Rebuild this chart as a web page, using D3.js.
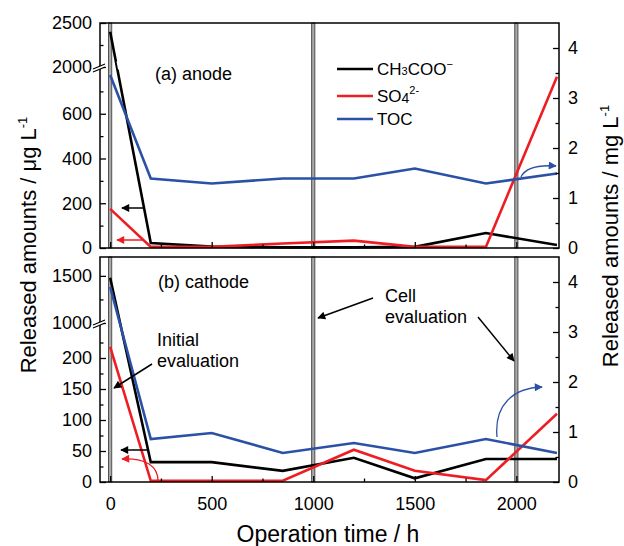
<!DOCTYPE html>
<html>
<head>
<meta charset="utf-8">
<script src="https://cdn.jsdelivr.net/npm/d3@7"></script>
<style>
  body { margin: 0; background: #fff; }
  text { font-family: "Liberation Sans", Arial, sans-serif; fill: #000; }
</style>
</head>
<body>
<script>
// ---------------- data ----------------
const times = [0, 200, 500, 850, 1200, 1500, 1850, 2200];

// (a) anode
const acetateAnode = [2400, 22, 6, 3, 3, 5, 67, 13];     // ug/L
const sulfateAnode = [175, 5, 5, 20, 33, 5, 5, 765];      // ug/L
const tocAnode     = [3.46, 1.39, 1.29, 1.39, 1.39, 1.59, 1.29, 1.49]; // mg/L

// (b) cathode
const acetateCathode = [1480, 32, 32, 18, 39, 6, 37, 37];
const sulfateCathode = [218, 2, 2, 2, 52, 18, 3, 110];
const tocCathode     = [3.9, 0.86, 0.98, 0.58, 0.78, 0.58, 0.86, 0.58];

const evalTimes = [0, 1000, 2000];
const xTicks = [0, 500, 1000, 1500, 2000];
const xMinor = [250, 750, 1250, 1750];
const leftTicksA = [0, 200, 400, 600, 2000, 2500];
const leftMinorA = [100, 300, 500, 700, 2250];
const leftTicksB = [0, 50, 100, 150, 200, 1000, 1500];
const leftMinorB = [25, 75, 125, 175, 225, 1250];
const rightTicks = [0, 1, 2, 3, 4];
const rightMinor = [0.5, 1.5, 2.5, 3.5];

const BLACK = "#000", RED = "#ee1d23", BLUE = "#2b51a6";

// ---------------- layout ----------------
const width = 624, height = 546;
const L = 100, R = 559;

var svg = d3.select("body").append("svg")
    .attr("width", width).attr("height", height);

var x = d3.scaleLinear().domain([-50, 2210]).range([L, R]);

// markers for arrows
var defs = svg.append("defs");
[["k", BLACK], ["r", RED], ["b", BLUE]].forEach(function(m) {
  defs.append("marker")
    .attr("id", "arr-" + m[0])
    .attr("viewBox", "0 0 10 10")
    .attr("refX", 9).attr("refY", 5)
    .attr("markerUnits", "userSpaceOnUse")
    .attr("markerWidth", 9).attr("markerHeight", 8)
    .attr("orient", "auto")
    .append("path").attr("d", "M0,0 L10,5 L0,10 Z").attr("fill", m[1]);
});

var panels = [
  { top: 23, bottom: 248,
    yLeft: d3.scaleLinear().domain([0, 800, 2000, 2500]).range([248, 69, 67, 23]),
    yRight: d3.scaleLinear().domain([0, 4.5]).range([248, 23]),
    ticks: leftTicksA, minor: leftMinorA, breakY: 67,
    series: [[acetateAnode, BLACK, "L"], [sulfateAnode, RED, "L"], [tocAnode, BLUE, "R"]] },
  { top: 257, bottom: 482,
    yLeft: d3.scaleLinear().domain([0, 250, 1000, 1700]).range([482, 327, 323, 257]),
    yRight: d3.scaleLinear().domain([0, 4.5]).range([482, 257]),
    ticks: leftTicksB, minor: leftMinorB, breakY: 323,
    series: [[acetateCathode, BLACK, "L"], [sulfateCathode, RED, "L"], [tocCathode, BLUE, "R"]] }
];

function styleAxis(g) {
  g.select(".domain").remove();
  g.selectAll("line").attr("stroke", "#000").attr("stroke-width", 1.3);
  g.selectAll("text").style("font-size", "18px")
    .style("font-family", "'Liberation Sans', Arial, sans-serif");
}

panels.forEach(function(p, i) {
  var g = svg.append("g");

  // evaluation bars (grey vertical lines)
  g.selectAll(".evbar").data(evalTimes).enter().append("rect")
    .attr("x", function(d) { return x(d) - 1.6; })
    .attr("y", p.top)
    .attr("width", 3.2).attr("height", p.bottom - p.top)
    .attr("fill", "#a8a8a8").attr("stroke", "#444").attr("stroke-width", 0.9);

  // data lines
  p.series.forEach(function(s) {
    var y = s[2] == "L" ? p.yLeft : p.yRight;
    var line = d3.line()
      .x(function(d, j) { return x(times[j]); })
      .y(function(d) { return y(d); });
    g.append("path").datum(s[0])
      .attr("d", line)
      .attr("fill", "none")
      .attr("stroke", s[1])
      .attr("stroke-width", 2.6)
      .attr("stroke-linejoin", "miter");
  });

  // bottom axis ticks (inward)
  var xb = g.append("g").attr("transform", "translate(0," + p.bottom + ")")
    .call(d3.axisBottom(x).tickValues(xTicks).tickSize(-6)
      .tickFormat(i == 1 ? d3.format("d") : ""));
  styleAxis(xb);
  xb.selectAll("text").attr("dy", "1.05em").attr("y", 9);
  var xm = g.append("g").attr("transform", "translate(0," + p.bottom + ")")
    .call(d3.axisBottom(x).tickValues(xMinor).tickSize(-3.5).tickFormat(""));
  styleAxis(xm);

  // left axis
  var yl = g.append("g").attr("transform", "translate(" + L + ",0)")
    .call(d3.axisLeft(p.yLeft).tickValues(p.ticks).tickSize(-6).tickPadding(8)
      .tickFormat(d3.format("d")));
  styleAxis(yl);
  var ylm = g.append("g").attr("transform", "translate(" + L + ",0)")
    .call(d3.axisLeft(p.yLeft).tickValues(p.minor).tickSize(-3.5).tickFormat(""));
  styleAxis(ylm);

  // right axis
  var yr = g.append("g").attr("transform", "translate(" + R + ",0)")
    .call(d3.axisRight(p.yRight).tickValues(rightTicks).tickSize(-6).tickPadding(9)
      .tickFormat(d3.format("d")));
  styleAxis(yr);
  var yrm = g.append("g").attr("transform", "translate(" + R + ",0)")
    .call(d3.axisRight(p.yRight).tickValues(rightMinor).tickSize(-3.5).tickFormat(""));
  styleAxis(yrm);

  // frame
  g.append("rect")
    .attr("x", L).attr("y", p.top)
    .attr("width", R - L).attr("height", p.bottom - p.top)
    .attr("fill", "none").attr("stroke", "#000").attr("stroke-width", 1.5);

  // axis break mark
  var by = p.breakY;
  g.append("path")
    .attr("d", "M" + (L - 7) + "," + (by + 2) + " L" + (L + 5) + "," + (by - 3) +
               " L" + (L + 5) + "," + (by) + " L" + (L - 7) + "," + (by + 5) + " Z")
    .attr("fill", "#fff");
  g.append("path")
    .attr("d", "M" + (L - 7) + "," + (by + 2) + " L" + (L + 5) + "," + (by - 3) +
               " M" + (L - 7) + "," + (by + 5) + " L" + (L + 5) + "," + (by))
    .attr("stroke", "#000").attr("stroke-width", 1.2).attr("fill", "none");
});

// gap of the acetate line at the top break
svg.append("line")
  .attr("x1", 119).attr("y1", 61).attr("x2", 120.5).attr("y2", 69)
  .attr("stroke", "#fff").attr("stroke-width", 5);

// ---------------- annotations ----------------
function arrow(x1, y1, x2, y2, col, id) {
  svg.append("line")
    .attr("x1", x1).attr("y1", y1).attr("x2", x2).attr("y2", y2)
    .attr("stroke", col).attr("stroke-width", 1.5)
    .attr("marker-end", "url(#arr-" + id + ")");
}
function curved(d, col, id) {
  svg.append("path").attr("d", d)
    .attr("fill", "none").attr("stroke", col).attr("stroke-width", 1.3)
    .attr("marker-end", "url(#arr-" + id + ")");
}

arrow(144, 208, 122, 208, BLACK, "k");
arrow(143, 240, 117, 240, RED, "r");
curved("M521,177 Q527,164 556,166", BLUE, "b");

arrow(147, 450, 121, 450, BLACK, "k");
curved("M158,481 C158,466 146,458 122,459", RED, "r");
curved("M497,437 C494,404 514,388 542,387", BLUE, "b");

arrow(152, 364, 114, 388, BLACK, "k");
arrow(373, 298, 318, 318, BLACK, "k");
arrow(478, 317, 514, 361, BLACK, "k");

svg.append("text").attr("x", 155).attr("y", 80).style("font-size", "18px").text("(a) anode");
svg.append("text").attr("x", 158).attr("y", 288).style("font-size", "18px").text("(b) cathode");
svg.append("text").attr("x", 157).attr("y", 346).style("font-size", "18px").text("Initial");
svg.append("text").attr("x", 157).attr("y", 367).style("font-size", "18px").text("evaluation");
svg.append("text").attr("x", 385).attr("y", 302).style("font-size", "18px").text("Cell");
svg.append("text").attr("x", 385).attr("y", 323).style("font-size", "18px").text("evaluation");

// legend
var legend = svg.append("g");
var legRows = [
  { y: 69, col: BLACK, parts: [["CH", 17, 0], ["3", 11, 0], ["COO", 17, 0], ["\u2212", 11, -7]] },
  { y: 96, col: RED, parts: [["SO", 17, 0], ["4", 14, 1], ["2-", 11, -8]] },
  { y: 119, col: BLUE, parts: [["TOC", 17, 0]] }
];
legRows.forEach(function(r) {
  legend.append("line")
    .attr("x1", 337).attr("x2", 373).attr("y1", r.y).attr("y2", r.y)
    .attr("stroke", r.col).attr("stroke-width", 2.6);
  var t = legend.append("text").attr("x", 377).attr("y", r.y + 6);
  var prev = 0;
  r.parts.forEach(function(pt) {
    t.append("tspan").style("font-size", pt[1] + "px")
      .attr("dy", pt[2] - prev).text(pt[0]);
    prev = pt[2];
  });
});

// axis titles
var lt = svg.append("text").attr("transform", "translate(36,245) rotate(-90)")
  .attr("text-anchor", "middle").style("font-size", "22px");
lt.append("tspan").text("Released amounts / \u03bcg L");
lt.append("tspan").attr("dy", -9).style("font-size", "13px").text("-1");

var rt = svg.append("text").attr("transform", "translate(618,236) rotate(-90)")
  .attr("text-anchor", "middle").style("font-size", "22px");
rt.append("tspan").text("Released amounts / mg L");
rt.append("tspan").attr("dy", -9).style("font-size", "13px").text("-1");

svg.append("text").attr("x", 328).attr("y", 542)
  .attr("text-anchor", "middle").style("font-size", "23px")
  .text("Operation time / h");
</script>
</body>
</html>
